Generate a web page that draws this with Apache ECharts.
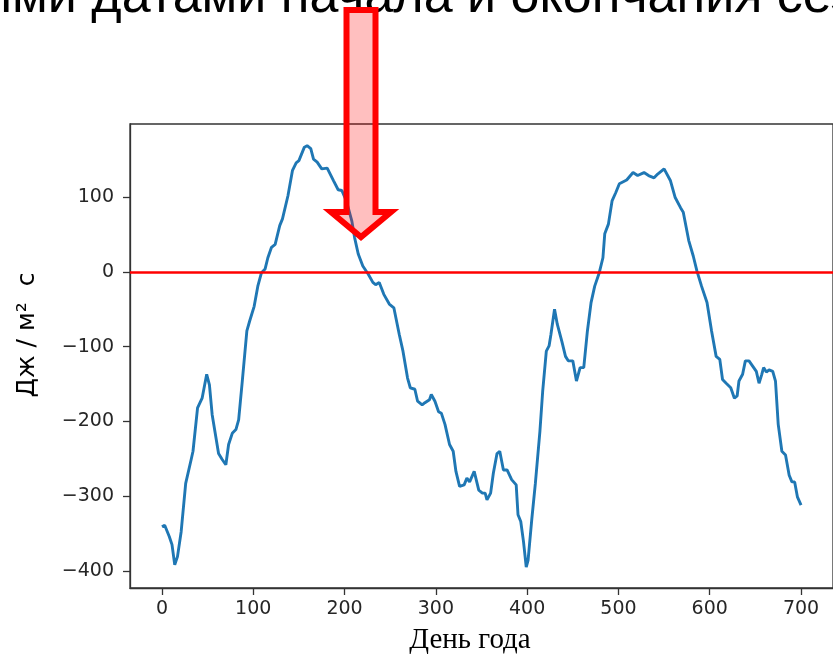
<!DOCTYPE html>
<html>
<head>
<meta charset="utf-8">
<script src="https://cdn.jsdelivr.net/npm/echarts@6/dist/echarts.min.js"></script>
<style>
  html, body { margin: 0; padding: 0; background: #fff; }
  #chart { width: 833px; height: 654px; }
</style>
</head>
<body>
<div id="chart"></div>
<script>
// Day of year and the accumulated flux (J / m² s) on that day
const days = [
  0, 3, 8, 11, 14, 17, 21, 26, 32, 34, 39, 44, 46, 49, 52, 55, 62, 66, 70, 73,
  77, 81, 84, 88, 93, 96, 101, 105, 109, 113, 116, 120, 124, 129, 132, 138, 143, 147, 150, 156,
  159, 163, 166, 170, 175, 181, 188, 193, 197, 202, 208, 211, 215, 220, 226, 231, 234, 238, 243, 249,
  254, 260, 264, 269, 272, 277, 280, 285, 288, 293, 295, 299, 303, 306, 310, 315, 319, 322, 326, 331,
  334, 337, 342, 347, 351, 354, 356, 360, 363, 367, 370, 374, 378, 383, 388, 390, 393, 396, 399, 401,
  405, 409, 414, 417, 421, 424, 426, 430, 433, 438, 442, 445, 450, 454, 458, 462, 466, 470, 474, 479,
  483, 485, 489, 493, 497, 501, 509, 516, 521, 528, 533, 539, 543, 550, 557, 562, 568, 571, 577, 582,
  586, 591, 597, 602, 607, 611, 614, 618, 623, 627, 630, 632, 636, 639, 643, 647, 651, 654, 657, 659,
  662, 665, 669, 672, 675, 679, 683, 687, 690, 693, 696, 700
];
const flux = [
  -341, -339, -354, -365, -392, -381, -348, -283, -251, -240, -182, -169, -169, -137, -151, -191, -243, -251, -258, -231,
  -216, -211, -198, -146, -79, -66, -46, -19, -1, 4, 19, 33, 37, 62, 71, 102, 136, 146, 149, 167,
  169, 165, 151, 147, 138, 139, 122, 110, 109, 95, 68, 46, 24, 8, -3, -14, -17, -14, -30, -43,
  -48, -84, -106, -142, -155, -157, -173, -178, -175, -171, -164, -173, -187, -189, -204, -231, -240, -267, -287, -285,
  -276, -281, -267, -292, -296, -296, -305, -296, -269, -243, -240, -265, -265, -278, -285, -325, -334, -361, -395, -386,
  -332, -283, -213, -160, -106, -99, -84, -50, -70, -93, -113, -119, -119, -146, -128, -128, -79, -41, -19, -1,
  19, 51, 64, 95, 106, 118, 123, 133, 129, 133, 129, 126, 131, 138, 122, 100, 86, 80, 42, 21,
  1, -19, -41, -79, -113, -117, -144, -149, -155, -169, -166, -146, -137, -119, -119, -126, -133, -149, -137, -128,
  -134, -131, -133, -146, -204, -240, -245, -272, -281, -281, -301, -312
];

// Tick positions and the zero reference level
const xTicks = [0, 100, 200, 300, 400, 500, 600, 700];
const yTicks = [-400, -300, -200, -100, 0, 100];
const zeroLevel = 0;

const titleText = 'ными датами начала и окончания сезона';
const xTitle = 'День года';
const yTitle = 'Дж / м²  с';

const points = days.map((d, i) => [d, flux[i]]);
const fmt = v => (v < 0 ? '\u2212' + Math.abs(v) : String(v));

const chart = echarts.init(document.getElementById('chart'), null, { renderer: 'canvas' });

chart.setOption({
  animation: false,
  backgroundColor: '#ffffff',
  grid: {
    left: 130, top: 124, width: 715, height: 464,
    show: true, borderColor: '#333333', borderWidth: 1.3, backgroundColor: 'transparent'
  },
  xAxis: {
    type: 'value', min: -35, max: 735,
    splitLine: { show: false },
    axisLine: { show: true, onZero: false, lineStyle: { color: '#333333', width: 1.3 } },
    axisTick: { show: true, length: 7, customValues: xTicks, lineStyle: { color: '#333333', width: 1.3 } },
    axisLabel: {
      customValues: xTicks, margin: 12, formatter: fmt,
      fontFamily: 'DejaVu Sans', fontSize: 19, color: '#262626'
    }
  },
  yAxis: {
    type: 'value', min: -423, max: 198,
    splitLine: { show: false },
    axisLine: { show: true, onZero: false, lineStyle: { color: '#333333', width: 1.3 } },
    axisTick: { show: true, length: 7, customValues: yTicks, lineStyle: { color: '#333333', width: 1.3 } },
    axisLabel: {
      customValues: yTicks, margin: 16, formatter: fmt,
      fontFamily: 'DejaVu Sans', fontSize: 19, color: '#262626'
    }
  },
  series: [{
    type: 'line',
    data: points,
    showSymbol: false,
    smooth: false,
    lineStyle: { color: '#1f77b4', width: 2.9 },
    z: 2,
    markLine: {
      silent: true,
      symbol: ['none', 'none'],
      label: { show: false },
      lineStyle: { color: '#ff0000', width: 2.6, type: 'solid' },
      data: [{ yAxis: zeroLevel }],
      z: 3
    }
  }],
  graphic: [
    {
      type: 'text', x: -54, y: 24, z: 50,
      style: {
        text: titleText, fill: '#000000',
        font: '52px "Liberation Sans", Arial, sans-serif',
        verticalAlign: 'bottom', align: 'left'
      }
    },
    {
      type: 'text', x: 470, y: 640, z: 50,
      style: {
        text: xTitle, fill: '#000000',
        font: '29px "Liberation Serif", "Times New Roman", serif',
        align: 'center', verticalAlign: 'middle'
      }
    },
    {
      type: 'text', x: 27, y: 335, rotation: Math.PI / 2, z: 50,
      style: {
        text: yTitle, fill: '#000000',
        font: '25px "DejaVu Sans", sans-serif',
        align: 'center', verticalAlign: 'middle'
      }
    },
    {
      // downward arrow pointing at the autumn zero crossing
      type: 'polygon', z: 100,
      shape: {
        points: [[346.5, 10], [375.5, 10], [375.5, 212], [391, 212], [361, 237], [331, 212], [346.5, 212]]
      },
      style: {
        fill: 'rgba(255,0,0,0.25)', stroke: '#ff0000', lineWidth: 6, lineJoin: 'miter'
      }
    }
  ]
});
</script>
</body>
</html>
